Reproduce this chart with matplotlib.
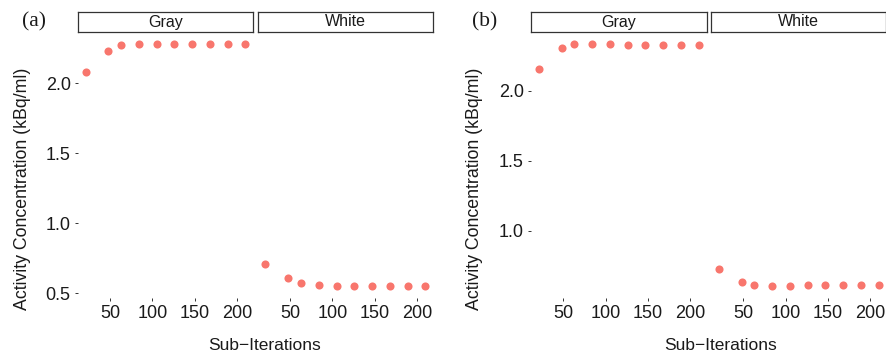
import matplotlib
matplotlib.use("Agg")
import matplotlib.pyplot as plt

# Data
sub_iters = [21, 48, 63, 84, 105, 126, 147, 168, 189, 210]

a_gray = [2.08, 2.232, 2.273, 2.28, 2.28, 2.28, 2.28, 2.28, 2.28, 2.28]
a_white = [0.709, 0.609, 0.577, 0.561, 0.556, 0.556, 0.554, 0.554, 0.554, 0.554]

b_gray = [2.155, 2.305, 2.331, 2.333, 2.331, 2.328, 2.326, 2.326, 2.324, 2.324]
b_white = [0.726, 0.634, 0.61, 0.605, 0.607, 0.61, 0.612, 0.612, 0.614, 0.614]

facet_names = ["Gray", "White"]
x_ticks = [50, 100, 150, 200]
a_yticks = [0.5, 1.0, 1.5, 2.0]
b_yticks = [1.0, 1.5, 2.0]

plt.rcParams['font.family'] = ['Liberation Sans', 'DejaVu Sans']

W, H = 887, 354
fig = plt.figure(figsize=(W / 100, H / 100), dpi=100)

POINT_COLOR = "#F8766D"
TEXT_COLOR = "#1a1a1a"


def px_axes(x0, y0, x1, y1):
    # pixel box (top-left origin) -> figure axes
    return fig.add_axes([x0 / W, 1 - y1 / H, (x1 - x0) / W, (y1 - y0) / H])


def expand(vals):
    lo, hi = min(vals), max(vals)
    pad = (hi - lo) * 0.05
    return lo - pad, hi + pad


def draw_panel(series, yticks, facet_x, label, label_x, ylab_x, xlab_x):
    ylim = expand(series[0] + series[1])
    xlim = expand(sub_iters)
    for i, (x0, x1) in enumerate(facet_x):
        ax = px_axes(x0, 32, x1, 298)
        ax.scatter(sub_iters, series[i], s=34, color=POINT_COLOR, linewidths=0, zorder=3)
        ax.set_xlim(xlim)
        ax.set_ylim(ylim)
        for sp in ax.spines.values():
            sp.set_visible(False)
        ax.set_xticks(x_ticks)
        ax.tick_params(axis='x', length=2, width=0.7, color="#333333", pad=3,
                       labelsize=13, labelcolor=TEXT_COLOR)
        if i == 0:
            ax.set_yticks(yticks)
            ax.set_yticklabels([f"{t:.1f}" for t in yticks])
            ax.tick_params(axis='y', length=2, width=0.7, color="#333333", pad=3,
                           labelsize=13, labelcolor=TEXT_COLOR)
        else:
            ax.set_yticks([])

        # facet strip
        st = px_axes(x0, 12, x1, 32)
        st.set_xticks([])
        st.set_yticks([])
        for sp in st.spines.values():
            sp.set_color("#333333")
            sp.set_linewidth(0.9)
        st.text(0.5, 0.5, facet_names[i], ha="center", va="center",
                fontsize=11.5, color=TEXT_COLOR, transform=st.transAxes)

    fig.text(label_x / W, 1 - 22 / H, label, family="Liberation Serif",
             fontsize=15.5, ha="center", va="center", color=TEXT_COLOR)
    fig.text(ylab_x / W, 1 - 189 / H, "Activity Concentration (kBq/ml)",
             rotation=90, ha="center", va="center", fontsize=12.8, color=TEXT_COLOR)
    fig.text(xlab_x / W, 1 - 345 / H, "Sub\u2212Iterations",
             ha="center", va="center", fontsize=12.5, color=TEXT_COLOR)


draw_panel([a_gray, a_white], a_yticks, [(77.6, 253.3), (257.5, 433.4)],
           "(a)", 34, 23, 265)
draw_panel([b_gray, b_white], b_yticks, [(530.8, 706.7), (710.8, 886.5)],
           "(b)", 485, 475, 721)

fig.savefig("out.png", dpi=100)
